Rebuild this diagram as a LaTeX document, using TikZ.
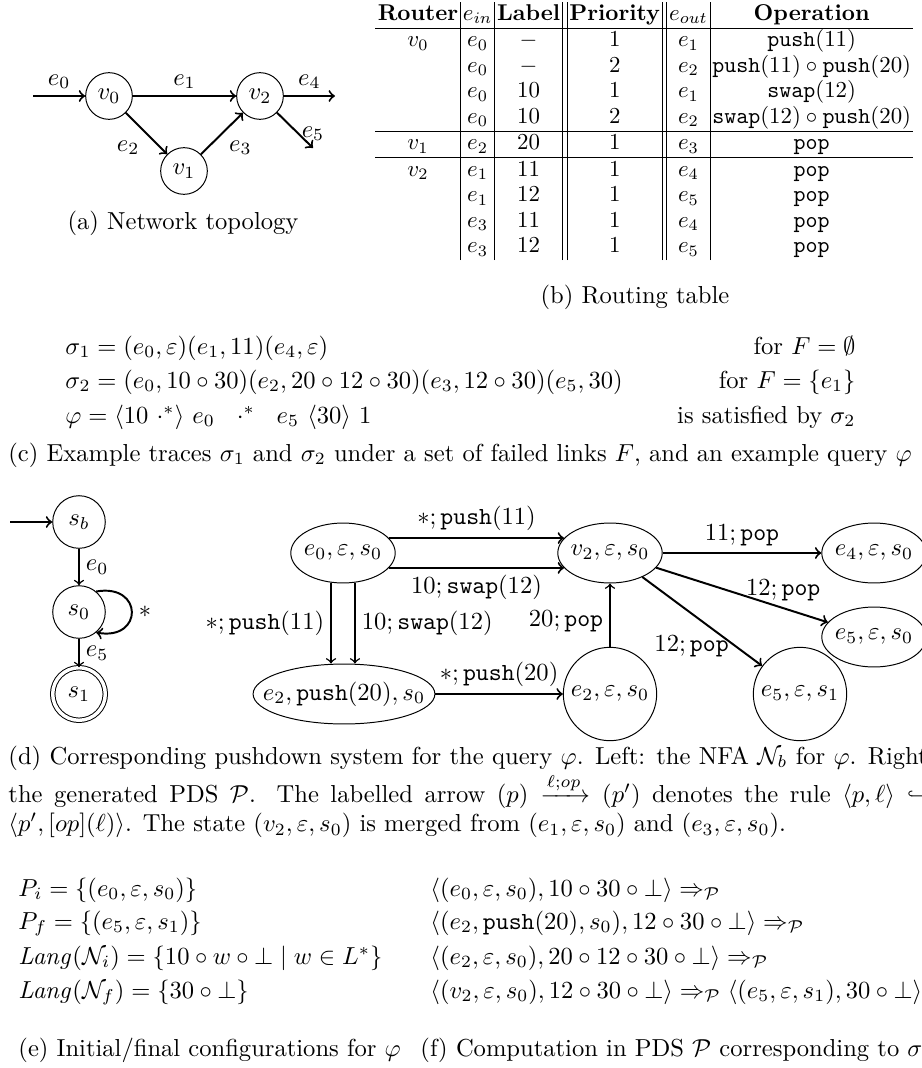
\documentclass[tikz,border=0pt]{standalone}
\usepackage{amsmath,amssymb}
\usetikzlibrary{shapes.geometric}
\begin{document}
\begin{tikzpicture}[x=0.407pt,y=-0.407pt,
  vtx/.style={circle,draw,minimum size=19pt,inner sep=0pt},
  nfa/.style={circle,draw,minimum size=21.4pt,inner sep=0pt},
  pst/.style={ellipse,draw,inner xsep=-10pt,inner ysep=0pt,minimum height=24.4pt,minimum width=42.5pt},
  pci/.style={circle,draw,minimum size=38pt,inner sep=0pt},
  arr/.style={->,thick},
  lbl/.style={inner sep=2.5pt}]
\useasboundingbox (0,0) rectangle (922,1068);
\clip (0,0) rectangle (922,1068);

% ---------- (a) network topology
\node[vtx] (v0) at (109,96) {$v_0$};
\node[vtx] (v2) at (260,96) {$v_2$};
\node[vtx] (v1) at (184,171) {$v_1$};
\coordinate (ain) at (33,96);
\coordinate (aout4) at (335,96);
\coordinate (aout5) at (313,148);
\draw[arr] (ain) -- node[lbl,above] {$e_0$} (v0);
\draw[arr] (v0) -- node[lbl,above] {$e_1$} (v2);
\draw[arr] (v0) -- node[lbl,below left] {$e_2$} (v1);
\draw[arr] (v1) -- node[lbl,below right] {$e_3$} (v2);
\draw[arr] (v2) -- node[lbl,above] {$e_4$} (aout4);
\draw[arr] (v2) -- node[lbl,at end,above] {$e_5$} (aout5);
\node[anchor=base] (capa) at (183,229) {(a) Network topology};

% ---------- (b) routing table
\node[anchor=north west,inner sep=0pt] (tab) at (375,2) {\scalebox{0.93}{\setlength{\tabcolsep}{1pt}\renewcommand{\arraystretch}{0.93}%
\begin{tabular}{c|c|c||c||c|c}
\textbf{Router} & $e_{in}$ & \textbf{Label} & \textbf{Priority} & $e_{out}$ & \textbf{Operation}\\ \hline
$v_0$ & $e_0$ & $-$ & 1 & $e_1$ & $\mathtt{push}(11)$\\
 & $e_0$ & $-$ & 2 & $e_2$ & $\mathtt{push}(11)\circ\mathtt{push}(20)$\\
 & $e_0$ & 10 & 1 & $e_1$ & $\mathtt{swap}(12)$\\
 & $e_0$ & 10 & 2 & $e_2$ & $\mathtt{swap}(12)\circ\mathtt{push}(20)$\\ \hline
$v_1$ & $e_2$ & 20 & 1 & $e_3$ & $\mathtt{pop}$\\ \hline
$v_2$ & $e_1$ & 11 & 1 & $e_4$ & $\mathtt{pop}$\\
 & $e_1$ & 12 & 1 & $e_5$ & $\mathtt{pop}$\\
 & $e_3$ & 11 & 1 & $e_4$ & $\mathtt{pop}$\\
 & $e_3$ & 12 & 1 & $e_5$ & $\mathtt{pop}$
\end{tabular}}};
\node[anchor=base] (capb) at (635,303) {(b) Routing table};

% ---------- (c) traces
\node[anchor=base west,inner sep=0pt] (s1l) at (65,354) {$\sigma_1 = (e_0,\varepsilon)(e_1,11)(e_4,\varepsilon)$};
\node[anchor=base west,inner sep=0pt] (s2l) at (65,388) {$\sigma_2 = (e_0,10\circ 30)(e_2,20\circ 12\circ 30)(e_3,12\circ 30)(e_5,30)$};
\node[anchor=base west,inner sep=0pt] (phl) at (65,423) {$\varphi = \langle 10\ \cdot^*\rangle\ e_0\ \ \cdot^*\ \ e_5\ \langle 30\rangle\ 1$};
\node[anchor=base east,inner sep=0pt] (s1r) at (856,354) {for $F=\emptyset$};
\node[anchor=base east,inner sep=0pt] (s2r) at (856,388) {for $F=\{e_1\}$};
\node[anchor=base east,inner sep=0pt] (phr) at (856,423) {is satisfied by $\sigma_2$};
\node[anchor=base] (capc) at (460,461) {(c) Example traces $\sigma_1$ and $\sigma_2$ under a set of failed links $F$, and an example query $\varphi$};

% ---------- (d) NFA
\node[nfa] (sb) at (79,522) {$s_b$};
\node[nfa] (s0) at (79,612) {$s_0$};
\node[nfa,double,double distance=1.4pt] (s1) at (79,694) {$s_1$};
\coordinate (nin) at (10,522);
\draw[arr] (nin) -- (sb);
\draw[arr,semithick] (sb) -- node[lbl,right] {$e_0$} (s0);
\draw[arr,semithick] (s0) -- node[lbl,right] {$e_5$} (s1);
\draw[arr] (s0.50) to[out=10,in=-10,looseness=3] node[lbl,right] {$*$} (s0.-50);

% ---------- (d) PDS
\node[pst] (p0) at (343,553) {$e_0,\varepsilon,s_0$};
\node[pst] (pv2) at (610,553) {$v_2,\varepsilon,s_0$};
\node[pst] (p4) at (874,553) {$e_4,\varepsilon,s_0$};
\node[pst] (p5a) at (874,637) {$e_5,\varepsilon,s_0$};
\node[pst,minimum width=74pt] (p2p) at (344,694) {$e_2,\mathtt{push}(20),s_0$};
\node[pci] (p2e) at (610,694) {$e_2,\varepsilon,s_0$};
\node[pci] (p5b) at (800,694) {$e_5,\varepsilon,s_1$};
\draw[arr] (p0.18) -- node[lbl,above] {$*;\mathtt{push}(11)$} (pv2.162);
\draw[arr] (p0.-18) -- node[lbl,below] {$10;\mathtt{swap}(12)$} (pv2.-162);
\draw[arr,semithick] (p0.-112) -- node[lbl,left] {$*;\mathtt{push}(11)$} (p0.-112 |- p2p.north);
\draw[arr,semithick] (p0.-68) -- node[lbl,right] {$10;\mathtt{swap}(12)$} (p0.-68 |- p2p.north);
\draw[arr] (p2p) -- node[lbl,above] {$*;\mathtt{push}(20)$} (p2e);
\draw[arr,semithick] (p2e) -- node[lbl,pos=0.4,left] {$20;\mathtt{pop}$} (pv2);
\draw[arr] (pv2) -- node[lbl,above] {$11;\mathtt{pop}$} (p4);
\draw[arr] (pv2) -- node[lbl,pos=0.74,above] {$12;\mathtt{pop}$} (p5a);
\draw[arr] (pv2) -- node[lbl,pos=0.78,left] {$12;\mathtt{pop}$} (p5b);

\node[anchor=base west,inner sep=0pt] (capd) at (8,764) {\parbox[t]{376.9pt}{(d) Corresponding pushdown system for the query $\varphi$. Left: the NFA $\mathcal{N}_b$ for $\varphi$. Right:\linebreak the generated PDS $\mathcal{P}$. The labelled arrow $(p)\xrightarrow{\ell;op}(p')$ denotes the rule $\langle p,\ell\rangle\hookrightarrow$\linebreak$\langle p',[op](\ell)\rangle$. The state $(v_2,\varepsilon,s_0)$ is merged from $(e_1,\varepsilon,s_0)$ and $(e_3,\varepsilon,s_0)$.}};

% ---------- (e) and (f)
\node[anchor=base west,inner sep=0pt] (e1) at (18,896) {$P_i = \{(e_0,\varepsilon,s_0)\}$};
\node[anchor=base west,inner sep=0pt] (e2) at (18,929) {$P_f = \{(e_5,\varepsilon,s_1)\}$};
\node[anchor=base west,inner sep=0pt] (e3) at (18,964) {$\mathit{Lang}(\mathcal{N}_i) = \{10\circ w\circ\bot \mid w\in L^*\}$};
\node[anchor=base west,inner sep=0pt] (e4) at (18,998) {$\mathit{Lang}(\mathcal{N}_f) = \{30\circ\bot\}$};
\node[anchor=base west,inner sep=0pt] (f1) at (430,896) {$\langle (e_0,\varepsilon,s_0), 10\circ 30\circ\bot\rangle \Rightarrow_{\mathcal{P}}$};
\node[anchor=base west,inner sep=0pt] (f2) at (430,929) {$\langle (e_2,\mathtt{push}(20),s_0), 12\circ 30\circ\bot\rangle \Rightarrow_{\mathcal{P}}$};
\node[anchor=base west,inner sep=0pt] (f3) at (430,964) {$\langle (e_2,\varepsilon,s_0), 20\circ 12\circ 30\circ\bot\rangle \Rightarrow_{\mathcal{P}}$};
\node[anchor=base west,inner sep=0pt] (f4) at (430,998) {$\langle (v_2,\varepsilon,s_0), 12\circ 30\circ\bot\rangle \Rightarrow_{\mathcal{P}} \langle (e_5,\varepsilon,s_1), 30\circ\bot\rangle$};
\node[anchor=base west,inner sep=0pt] (cape) at (18,1056) {(e) Initial/final configurations for $\varphi$};
\node[anchor=base west,inner sep=0pt] (capf) at (420,1056) {(f) Computation in PDS $\mathcal{P}$ corresponding to $\sigma_2$};
\end{tikzpicture}
\end{document}
